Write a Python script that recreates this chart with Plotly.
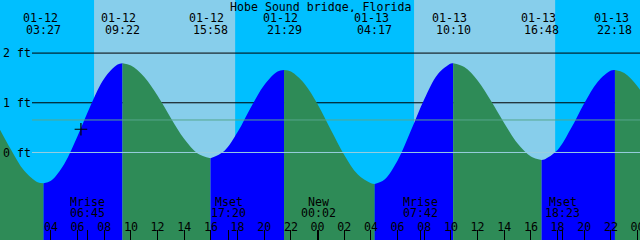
import plotly.graph_objects as go

# ---------------- data ----------------
title = "Hobe Sound bridge, Florida"

# hourly tide heights (ft), hours counted from 01-12 00:00
hour_marks = list(range(0, 50))
tide_heights = [0.55, 0.06, -0.37, -0.60, -0.57, -0.23, 0.33, 0.96, 1.49, 1.77,
                1.75, 1.52, 1.14, 0.69, 0.27, -0.02, -0.117, 0.03, 0.41, 0.91,
                1.36, 1.63, 1.63, 1.39, 0.97, 0.45, -0.05, -0.44, -0.62, -0.55,
                -0.16, 0.44, 1.07, 1.57, 1.79, 1.72, 1.45, 1.04, 0.59, 0.18,
                -0.08, -0.14, 0.05, 0.48, 0.99, 1.42, 1.65, 1.60, 1.33, 0.88]

# high / low tide events
extreme_dates = ["01-12", "01-12", "01-12", "01-12", "01-13", "01-13", "01-13", "01-13"]
extreme_times = ["03:27", "09:22", "15:58", "21:29", "04:17", "10:10", "16:48", "22:18"]
extreme_heights = [-0.62, 1.795, -0.117, 1.66, -0.634, 1.795, -0.15, 1.66]

# sun events (day = between sunrise and sunset)
sunrise = ["01-12 07:14", "01-13 07:14"]
sunset = ["01-12 17:49", "01-13 17:49"]

# moon events
moon_names = ["Mrise", "Mset", "New", "Mrise", "Mset"]
moon_times = ["01-12 06:45", "01-12 17:20", "01-13 00:02", "01-13 07:42", "01-13 18:23"]

# datum lines
datum_levels = [0, 1, 2]
datum_labels = ["0 ft", "1 ft", "2 ft"]
msl_level = 0.654

# current-time mark
mark_time = "01-12 06:15"
mark_height = 0.467

# ---------------- helpers ----------------
def to_hours(stamp):
    date, hm = stamp.split(" ")
    day = int(date.split("-")[1]) - 12
    h, m = hm.split(":")
    return day * 24 + int(h) + int(m) / 60.0

X0, X1 = 0.18, 48.18
Y0, Y1 = -1.761, 3.068
NIGHT = "#00BFFF"
DAY = "#87CEEB"
FLOOD = "#0000FF"
EBB = "#2E8B57"
FONT = dict(family="DejaVu Sans Mono", size=11.6, color="black")

ext_h = [to_hours(d + " " + t) for d, t in zip(extreme_dates, extreme_times)]

# merged curve points
pts = [(h, v) for h, v in zip(hour_marks, tide_heights)
       if all(abs(h - e) > 0.15 for e in ext_h)]
pts += list(zip(ext_h, extreme_heights))
pts.sort()

bounds = [pts[0][0]] + ext_h + [pts[-1][0]]
fig = go.Figure()

# day shading
shapes = []
for r, s in zip(sunrise, sunset):
    shapes.append(dict(type="rect", xref="x", yref="paper", x0=to_hours(r), x1=to_hours(s),
                       y0=0, y1=1, fillcolor=DAY, line=dict(width=0), layer="below"))

line_x0 = X0 + 32 / 13.333
# datum lines drawn under the water
for lv in datum_levels[1:]:
    fig.add_trace(go.Scatter(x=[line_x0, X1], y=[lv, lv], mode="lines",
                             line=dict(color="black", width=1), hoverinfo="skip"))

# water segments
for i in range(len(bounds) - 1):
    a, b = bounds[i], bounds[i + 1]
    seg = [(h, v) for h, v in pts if a - 1e-9 <= h <= b + 1e-9]
    xs = [p[0] for p in seg]
    ys = [p[1] for p in seg]
    rising = ys[-1] > ys[0]
    fig.add_trace(go.Scatter(x=[xs[0], xs[-1]], y=[Y0 - 1, Y0 - 1], mode="lines",
                             line=dict(width=0), hoverinfo="skip"))
    fig.add_trace(go.Scatter(x=xs, y=ys, mode="lines", line=dict(width=0, shape="spline"),
                             fill="tonexty", fillcolor=FLOOD if rising else EBB,
                             hoverinfo="skip"))

# zero datum and mean sea level lines on top of the water
fig.add_trace(go.Scatter(x=[line_x0, X1], y=[datum_levels[0]] * 2, mode="lines",
                         line=dict(color="#98CEE0", width=1), hoverinfo="skip"))
fig.add_trace(go.Scatter(x=[line_x0, X1], y=[msl_level] * 2, mode="lines",
                         line=dict(color="#55A68C", width=1), hoverinfo="skip"))

fig.add_trace(go.Scatter(x=[to_hours(mark_time)], y=[mark_height], mode="markers",
                         marker=dict(symbol="cross-thin", size=9,
                                     line=dict(color="black", width=1.2)),
                         hoverinfo="skip"))

ann = [dict(text=title, x=0.5, xref="paper", y=1 - 6 / 240, yref="paper",
            showarrow=False, font=FONT, yanchor="middle", height=11)]
for d, t, h in zip(extreme_dates, extreme_times, ext_h):
    ann.append(dict(text=d, x=h, xref="x", xshift=-3.5, y=1 - 17.5 / 240, yref="paper",
                    showarrow=False, font=FONT, yanchor="middle", height=11))
    ann.append(dict(text=t, x=h, xref="x", y=1 - 29 / 240, yref="paper",
                    showarrow=False, font=FONT, yanchor="middle", height=11))
for n, t in zip(moon_names, moon_times):
    h = to_hours(t)
    ann.append(dict(text=n, x=h, xref="x", y=1 - 201.5 / 240, yref="paper",
                    showarrow=False, font=FONT, yanchor="middle", height=11))
    ann.append(dict(text=t.split(" ")[1], x=h, xref="x", y=1 - 212.5 / 240, yref="paper",
                    showarrow=False, font=FONT, yanchor="middle", height=11))

tickvals = list(range(0, 50, 2)) + [to_hours(t) for t in moon_times]
ticktext = ["%02d" % (h % 24) for h in range(0, 50, 2)] + [""] * len(moon_times)

fig.update_layout(
    width=640, height=240, margin=dict(l=0, r=0, t=0, b=0, autoexpand=False),
    paper_bgcolor=NIGHT, plot_bgcolor=NIGHT, showlegend=False,
    shapes=shapes, annotations=ann,
    xaxis=dict(range=[X0, X1], tickvals=tickvals, ticktext=ticktext, ticks="inside",
               ticklen=10, tickcolor="black", tickwidth=1, ticklabelposition="inside",
               ticklabelstandoff=-4, ticklabeloverflow="allow", automargin=False,
               tickfont=FONT, showgrid=False, zeroline=False, showline=False, fixedrange=True),
    yaxis=dict(range=[Y0, Y1], tickvals=datum_levels, ticktext=datum_labels, ticks="",
               ticklabelposition="inside", tickfont=FONT, showgrid=False, zeroline=False,
               showline=False, fixedrange=True, automargin=False),
)
fig.write_html("out.html")
